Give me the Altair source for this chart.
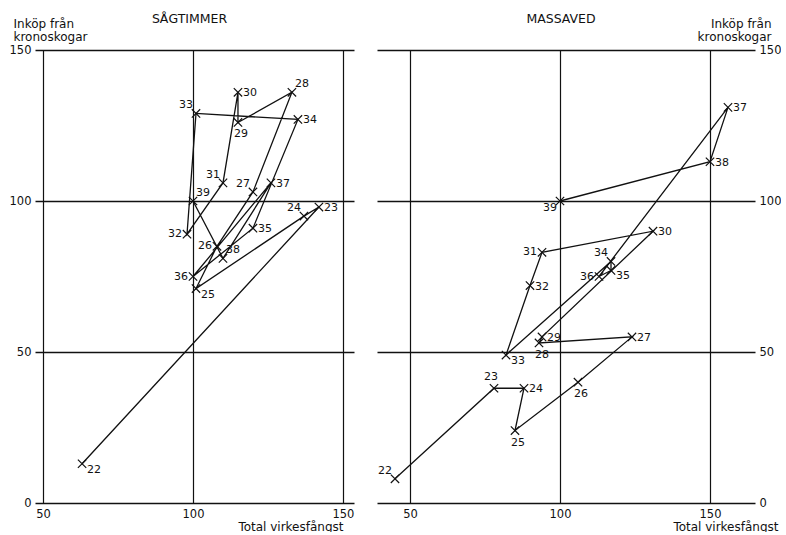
import altair as alt
import pandas as pd

FONT = "DejaVu Sans"

# Years 1922-1939 (labelled by the last two digits)
years = list(range(22, 40))

# Sågtimmer: total felling index (x) and purchases from crown forests (y)
saw_total = [63, 142, 137, 101, 108, 120, 133, 115, 115, 110, 98, 101, 135, 120, 100, 126, 110, 100]
saw_crown = [13, 98, 95, 71, 85, 103, 136, 126, 136, 106, 89, 129, 127, 91, 75, 106, 81, 100]
saw_place = ["rb", "r", "lt", "rb", "l", "lt", "rt", "b", "r", "lt", "l", "lt", "r", "r", "l", "r", "rt", "rt"]

# Massaved
pulp_total = [45, 78, 88, 85, 106, 124, 93, 94, 131, 94, 90, 82, 117, 117, 113, 156, 150, 100]
pulp_crown = [8, 38, 38, 24, 40, 55, 53, 55, 90, 83, 72, 49, 80, 77, 75, 131, 113, 100]
pulp_place = ["lt", "t", "r", "b", "b", "r", "b", "r", "r", "l", "r", "rb", "lt", "rb", "l", "r", "r", "lb"]

# Year-label placement around each marker
PLACES = {
    "r": dict(dx=5, dy=1, align="left"),
    "rb": dict(dx=5, dy=6, align="left"),
    "rt": dict(dx=3, dy=-8, align="left"),
    "l": dict(dx=-5, dy=0, align="right"),
    "lt": dict(dx=-3, dy=-8, align="right"),
    "lb": dict(dx=-3, dy=7, align="right"),
    "b": dict(dx=3, dy=12, align="center"),
    "t": dict(dx=-3, dy=-11, align="center"),
}

X_SHAPE = "M-1,-1L1,1M-1,1L1,-1"
INK = "#111111"


def panel(total, crown, place, xdom, width, name, yorient, ytitle_x, xtitle_x, ytitle_align):
    df = pd.DataFrame({
        "year": years,
        "total": total,
        "crown": crown,
        "label": [str(y) for y in years],
        "place": place,
    })
    x = alt.X(
        "total:Q",
        scale=alt.Scale(domain=xdom, nice=False, zero=False),
        axis=alt.Axis(
            values=[50, 100, 150], grid=True, gridColor=INK, gridWidth=1.2, gridOpacity=1,
            domain=False, ticks=False, labelPadding=5, labelFontSize=11.5, labelFont=FONT,
            labelColor=INK, labelFlush=False, labelOverlap=False, labelBound=False,
            title="Total virkesfångst", titleAlign="right", titleBaseline="alphabetic",
            titleX=xtitle_x, titleY=27, titleFont=FONT, titleFontSize=12,
            titleFontWeight="normal", titleColor=INK,
        ),
    )
    y = alt.Y(
        "crown:Q",
        scale=alt.Scale(domain=[0, 150], nice=False, zero=False),
        axis=alt.Axis(
            orient=yorient, values=[0, 50, 100, 150], grid=True, gridColor=INK,
            gridWidth=1.3, gridOpacity=1, domain=False, ticks=False,
            labelPadding=4, labelFontSize=11.5, labelFont=FONT, labelColor=INK,
            labelFlush=False, labelOverlap=False, labelBound=False,
            title=["Inköp  från", "kronoskogar"], titleAngle=0, titleAlign=ytitle_align,
            titleBaseline="alphabetic", titleX=ytitle_x, titleY=-22.5, titleLineHeight=12.5,
            titleFont=FONT, titleFontSize=12, titleFontWeight="normal", titleColor=INK,
        ),
    )
    base = alt.Chart(df)
    line = base.mark_line(color=INK, strokeWidth=1.3).encode(
        x=x, y=y, order=alt.Order("year:Q")
    )
    marks = base.mark_point(
        shape=X_SHAPE, size=70, color=INK, strokeWidth=1.2, filled=False, opacity=1
    ).encode(x="total:Q", y="crown:Q")
    labels = [
        base.transform_filter(alt.datum.place == key)
        .mark_text(font=FONT, fontSize=11, color=INK, baseline="middle", **opts)
        .encode(x="total:Q", y="crown:Q", text="label:N")
        for key, opts in PLACES.items()
        if key in place
    ]
    return alt.layer(line, marks, *labels).properties(
        width=width,
        height=453,
        title=alt.TitleParams(
            name, font=FONT, fontSize=12.5, fontWeight="normal", color=INK,
            anchor="middle", offset=0, dx=-5, dy=7.5,
        ),
    )


left = panel(saw_total, saw_crown, saw_place, [47.3, 153.7], 319, "SÅGTIMMER",
             "left", -22, 308, "left")
right = panel(pulp_total, pulp_crown, pulp_place, [39, 165], 378, "MASSAVED",
              "right", 16, 401, "right")

chart = (
    alt.hconcat(left, right, spacing=23)
    .configure(padding={"left": 9, "top": 12, "right": 0, "bottom": 0})
    .configure_view(stroke=None)
)

chart.save("out.html", embed_options={"renderer": "svg", "actions": False})
